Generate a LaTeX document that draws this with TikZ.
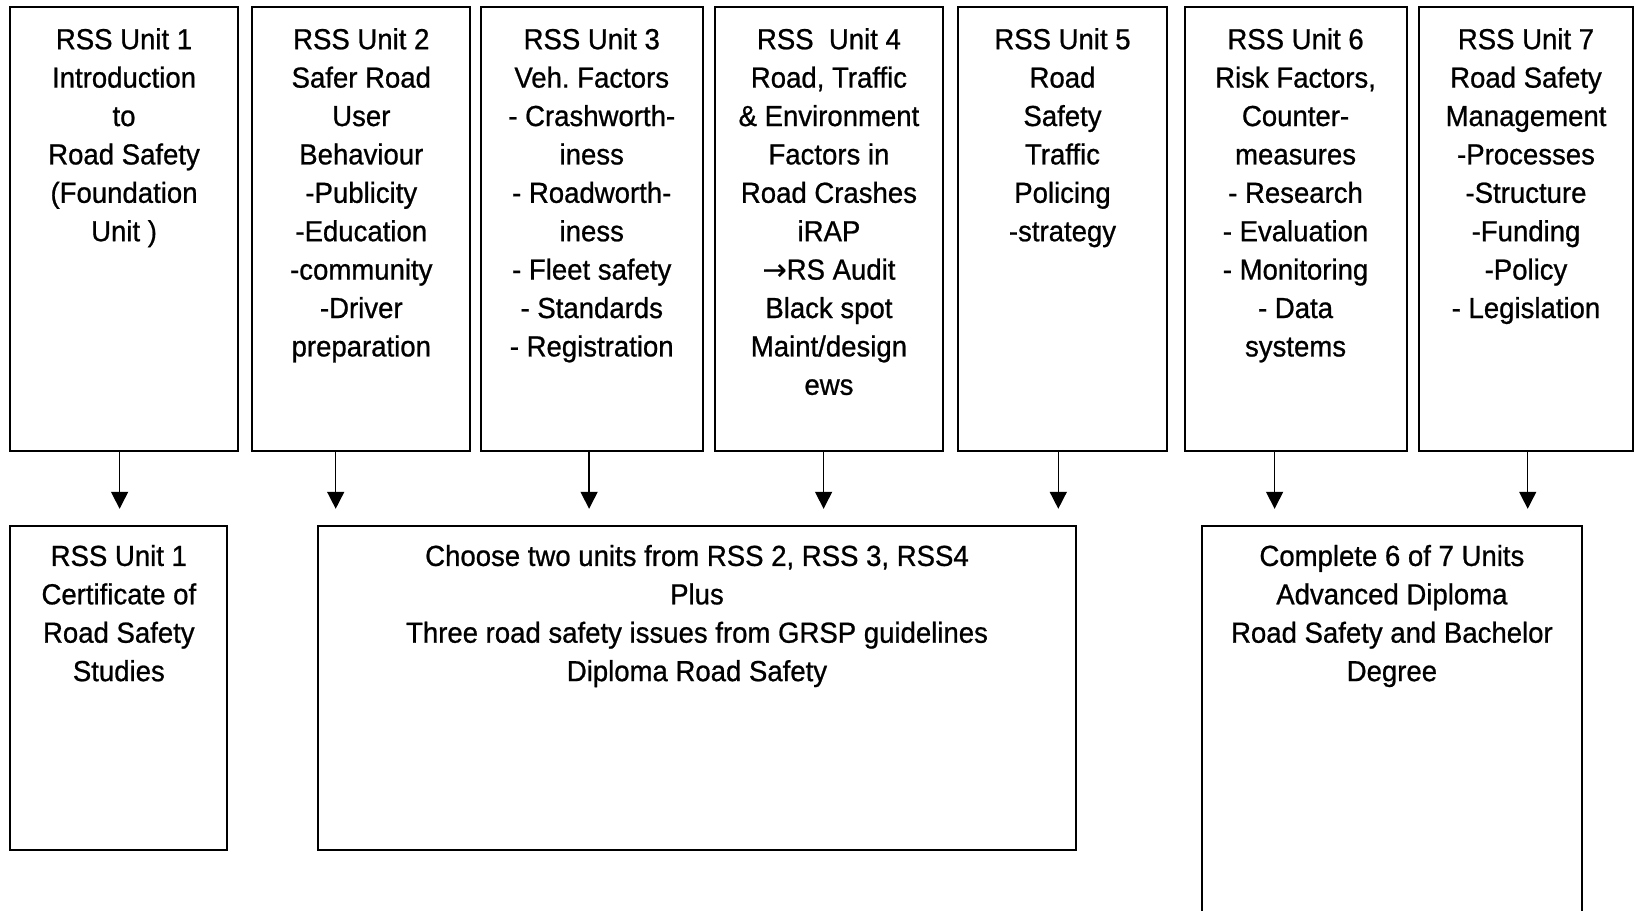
\documentclass[tikz,border=0pt]{standalone}
\usepackage{fontspec}
\setmainfont[FakeStretch=0.95,FakeBold=0.8]{Liberation Sans}
\newfontfamily\arrfont[FakeBold=0.4]{DejaVu Sans}
\usetikzlibrary{arrows.meta}
\frenchspacing
\begin{document}
\begin{tikzpicture}[x=1pt,y=-1pt,
  box/.style={draw, line width=2pt, inner sep=0pt, outer sep=0pt, anchor=north west},
  lbl/.style={anchor=north, inner sep=0pt, outer sep=0pt, align=center, font=\fontsize{29}{38.4}\selectfont},
  arr/.style={line width=1.5pt, -{Triangle[length=17pt,width=17pt]}}]
\clip (0,0) rectangle (1635,910);
\fill[white] (0,0) rectangle (1635,910);
% top row
\node[box, minimum width=227.3pt, minimum height=443.2pt] (u1) at (10.4,7.3) {};
\node[box, minimum width=218pt,   minimum height=443.2pt] (u2) at (252.3,7.3) {};
\node[box, minimum width=222.1pt, minimum height=443.2pt] (u3) at (480.7,7.3) {};
\node[box, minimum width=227.3pt, minimum height=443.2pt] (u4) at (715.3,7.3) {};
\node[box, minimum width=208.6pt, minimum height=443.2pt] (u5) at (958.2,7.3) {};
\node[box, minimum width=222.1pt, minimum height=443.2pt] (u6) at (1184.5,7.3) {};
\node[box, minimum width=213.8pt, minimum height=443.2pt] (u7) at (1419.1,7.3) {};
% bottom row
\node[box, minimum width=216.9pt, minimum height=324.3pt] (bA) at (10.4,525.5) {};
\node[box, minimum width=758pt,   minimum height=324.3pt] (bB) at (318,525.5) {};
\node[box, minimum width=379.8pt, minimum height=430pt]   (bC) at (1202,525.5) {};
% top labels
\path (u1.north) ++(0,20.9) node[lbl] (t1) {RSS Unit 1\\Introduction\\to\\Road Safety\\(Foundation\\Unit )};
\path (u2.north) ++(0,20.9) node[lbl] (t2) {RSS Unit 2\\Safer Road\\User\\Behaviour\\-Publicity\\-Education\\-community\\-Driver\\preparation};
\path (u3.north) ++(0,20.9) node[lbl] (t3) {RSS Unit 3\\Veh.\ Factors\\- Crashworth-\\iness\\- Roadworth-\\iness\\- Fleet safety\\- Standards\\- Registration};
\path (u4.north) ++(0,20.9) node[lbl] (t4) {RSS\ \ Unit 4\\Road, Traffic\\\& Environment\\Factors in\\Road Crashes\\iRAP\\{\arrfont →}RS Audit\\Black spot\\Maint/design\\ews};
\path (u5.north) ++(0,20.9) node[lbl] (t5) {RSS Unit 5\\Road\\Safety\\Traffic\\Policing\\-strategy};
\path (u6.north) ++(0,20.9) node[lbl] (t6) {RSS Unit 6\\Risk Factors,\\Counter-\\measures\\- Research\\- Evaluation\\- Monitoring\\- Data\\systems};
\path (u7.north) ++(0,20.9) node[lbl] (t7) {RSS Unit 7\\Road Safety\\Management\\-Processes\\-Structure\\-Funding\\-Policy\\- Legislation};
% bottom labels
\path (bA.north) ++(0,19.4) node[lbl] (tA) {RSS Unit 1\\Certificate of\\Road Safety\\Studies};
\path (bB.north) ++(0,19.4) node[lbl] (tB) {Choose two units from RSS 2, RSS 3, RSS4\\Plus\\Three road safety issues from GRSP guidelines\\Diploma Road Safety};
\path (bC.north) ++(0,19.4) node[lbl] (tC) {Complete 6 of 7 Units\\Advanced Diploma\\Road Safety and Bachelor\\Degree};
% arrows
\coordinate (a1) at (119.6,508.8);
\coordinate (a2) at (335.7,508.8);
\coordinate (a3) at (589.1,508.8);
\coordinate (a4) at (823.6,508.8);
\coordinate (a5) at (1058.3,508.8);
\coordinate (a6) at (1274.6,508.8);
\coordinate (a7) at (1527.7,508.8);
\draw[arr] (a1 |- u1.south) -- (a1);
\draw[arr] (a2 |- u2.south) -- (a2);
\draw[arr] (a3 |- u3.south) -- (a3);
\draw[arr] (a4 |- u4.south) -- (a4);
\draw[arr] (a5 |- u5.south) -- (a5);
\draw[arr] (a6 |- u6.south) -- (a6);
\draw[arr] (a7 |- u7.south) -- (a7);
\end{tikzpicture}
\end{document}
